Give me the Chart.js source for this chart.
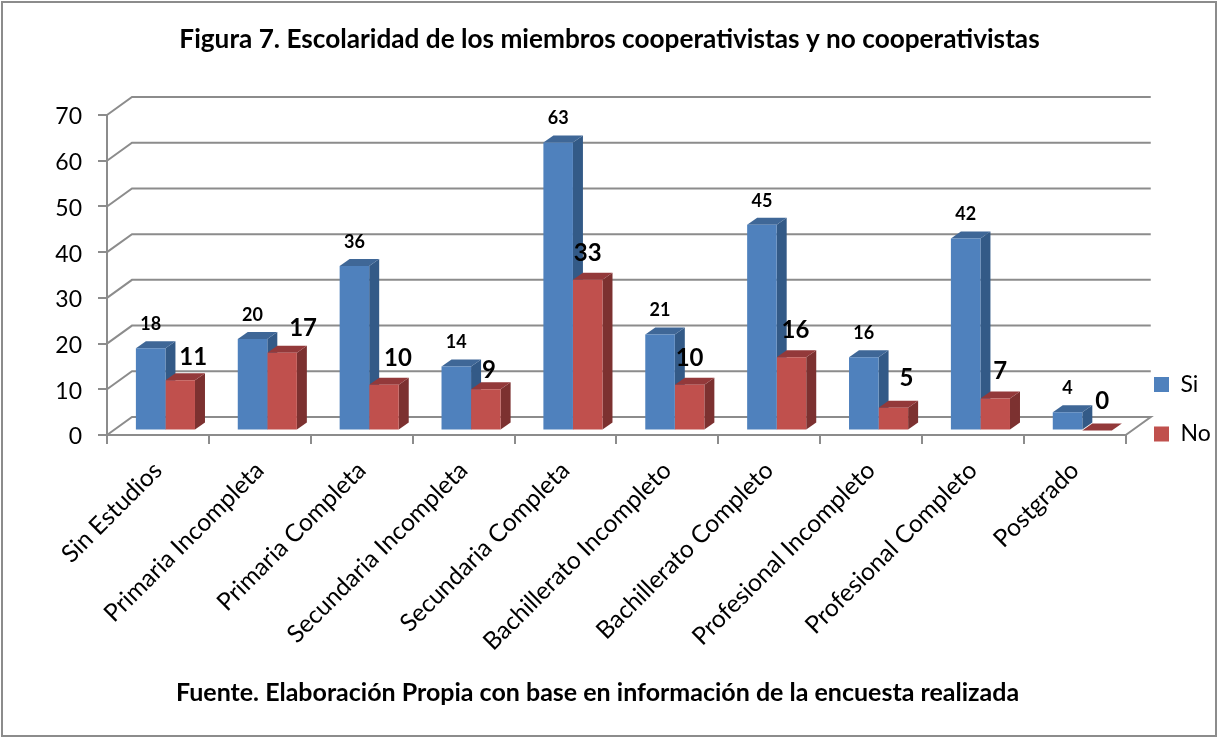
<!DOCTYPE html>
<html>
<head>
<meta charset="utf-8">
<title>Figura 7</title>
<script src="https://cdn.jsdelivr.net/npm/chart.js@4/dist/chart.umd.min.js"></script>
<style>
    html, body { margin: 0; padding: 0; background: #fff; }
    #marco { position: relative; width: 1217px; height: 738px; }
</style>
</head>
<body>
<div id="marco"><canvas id="grafico"></canvas></div>
<script>
const categorias = ['Sin Estudios', 'Primaria Incompleta', 'Primaria Completa', 'Secundaria Incompleta', 'Secundaria Completa', 'Bachillerato Incompleto', 'Bachillerato Completo', 'Profesional Incompleto', 'Profesional Completo', 'Postgrado'];
const valoresSi = [18, 20, 36, 14, 63, 21, 45, 16, 42, 4];
const valoresNo = [11, 17, 10, 9, 33, 10, 16, 5, 7, 0];
const titulo = 'Figura 7. Escolaridad de los miembros cooperativistas y no cooperativistas';
const fuente = 'Fuente. Elaboración Propia con base en información de la encuesta realizada';

// desplazamiento a mano de las etiquetas rojas, como en el original
const ajusteNoX = [13, 21, 14, 3, 0, 0, 4, 13, 5, 5];
const ajusteNoY = [-23, -25, -27, -19, -26, -27, -27, -29, -27, -29];

const fuenteTexto = 'Lato, Carlito, sans-serif';
const colorEje = '#8c8c8c';

// caras del efecto 3D
const FONDO_X = 25, FONDO_Y = -18;   // pared del fondo
const BARRA_X = 7.5, BARRA_Y = -4.5; // barras dentro del piso
const LADO_X = 10, LADO_Y = -7;      // grosor de la barra

const caras = {
    0: { lado: '#335a87', arriba: '#3f6797' },
    1: { lado: '#7c3130', arriba: '#93393a' }
};

function dibujarLados(ctx, barras, color) {
    ctx.fillStyle = color;
    barras.forEach(b => {
        const der = b.x + b.width / 2;
        ctx.beginPath();
        ctx.moveTo(der, b.base);
        ctx.lineTo(der + LADO_X, b.base + LADO_Y);
        ctx.lineTo(der + LADO_X, b.y + LADO_Y);
        ctx.lineTo(der, b.y);
        ctx.closePath();
        ctx.fill();
    });
}

function dibujarTapas(ctx, barras, color) {
    ctx.fillStyle = color;
    barras.forEach(b => {
        const izq = b.x - b.width / 2, der = b.x + b.width / 2;
        ctx.beginPath();
        ctx.moveTo(izq, b.y);
        ctx.lineTo(izq + LADO_X, b.y + LADO_Y);
        ctx.lineTo(der + LADO_X, b.y + LADO_Y);
        ctx.lineTo(der, b.y);
        ctx.closePath();
        ctx.fill();
    });
}

const pared = {
    id: 'pared',
    beforeDatasetsDraw(chart) {
        const { ctx, chartArea: a, scales: { y } } = chart;
        ctx.save();
        ctx.strokeStyle = colorEje;
        ctx.lineWidth = 2;
        y.ticks.forEach(t => {
            const py = y.getPixelForValue(t.value);
            ctx.beginPath();
            ctx.moveTo(a.left, py);
            ctx.lineTo(a.left + FONDO_X, py + FONDO_Y);
            ctx.lineTo(a.right + FONDO_X, py + FONDO_Y);
            if (t.value === 0) ctx.lineTo(a.right, py);
            ctx.stroke();
        });
        // el lado azul va antes que todo el rojo, que lo tapa
        ctx.translate(BARRA_X, BARRA_Y);
        dibujarLados(ctx, chart.getDatasetMeta(0).data, caras[0].lado);
        ctx.restore();
    },
    // las barras nativas se dibujan corridas hacia el fondo
    beforeDatasetDraw(chart, args) {
        const { ctx } = chart;
        const c = caras[args.index];
        ctx.save();
        ctx.translate(BARRA_X, BARRA_Y);
        if (args.index === 1) dibujarLados(ctx, args.meta.data, c.lado);
        dibujarTapas(ctx, args.meta.data, c.arriba);
    },
    afterDatasetDraw(chart) {
        chart.ctx.restore();
    },
    afterDatasetsDraw(chart) {
        const { ctx } = chart;
        ctx.save();
        ctx.fillStyle = '#000';
        ctx.textAlign = 'center';
        ctx.textBaseline = 'middle';
        ctx.font = 'bold 18px ' + fuenteTexto;
        chart.getDatasetMeta(0).data.forEach((b, i) => {
            ctx.fillText(valoresSi[i], b.x + BARRA_X, b.y + BARRA_Y - 24);
        });
        ctx.font = 'bold 24px ' + fuenteTexto;
        chart.getDatasetMeta(1).data.forEach((b, i) => {
            ctx.fillText(valoresNo[i], b.x + BARRA_X + ajusteNoX[i], b.y + BARRA_Y + ajusteNoY[i]);
        });
        ctx.restore();
    },
    afterLayout(chart) {
        // leyenda y pie quedan donde estaban en la figura
        const ley = chart.legend;
        ley.left = 1127.5; ley.right = 1217;
        ley.top = 346.5; ley.bottom = 490;
        chart.boxes.filter(b => b.options && b.options.text === fuente).forEach(b => {
            b.left -= 12; b.right -= 12;
        });
    },
    afterDraw(chart) {
        const { ctx, width, height } = chart;
        ctx.save();
        ctx.strokeStyle = '#8c8c8c';
        ctx.lineWidth = 2;
        ctx.strokeRect(2, 2, width - 3, height - 4);
        ctx.restore();
    }
};

new Chart(document.getElementById('grafico'), {
    type: 'bar',
    data: {
        labels: categorias,
        datasets: [
            { label: 'Si', data: valoresSi, backgroundColor: '#4f81bd', categoryPercentage: 0.58, barPercentage: 1 },
            { label: 'No', data: valoresNo, backgroundColor: '#c0504d', categoryPercentage: 0.58, barPercentage: 1 }
        ]
    },
    options: {
        responsive: true,
        maintainAspectRatio: false,
        animation: false,
        layout: { padding: { left: 0, right: -2, top: 0, bottom: 0 } },
        plugins: {
            title: {
                display: true,
                text: titulo,
                color: '#000',
                font: { family: fuenteTexto, size: 26.2, weight: 'bold' },
                padding: { top: 23.5, bottom: 60.1 }
            },
            subtitle: {
                display: true,
                position: 'bottom',
                text: fuente,
                color: '#000',
                font: { family: fuenteTexto, size: 25, weight: 'bold' },
                padding: { top: 0, bottom: 30 }
            },
            legend: {
                position: 'right',
                align: 'start',
                labels: {
                    color: '#000',
                    font: { family: fuenteTexto, size: 23 },
                    boxWidth: 15,
                    boxHeight: 15,
                    padding: 26.5
                }
            },
            tooltip: { enabled: false }
        },
        scales: {
            x: {
                grid: { drawOnChartArea: false, offset: true, color: colorEje, lineWidth: 2, tickLength: 9 },
                border: { color: colorEje, width: 2 },
                ticks: { color: '#000', font: { family: fuenteTexto, size: 24.5 }, maxRotation: 45, minRotation: 45, autoSkip: false, padding: 12 },
                afterFit(s) { s.height = 243; }
            },
            y: {
                min: 0,
                max: 70,
                grid: { drawOnChartArea: false, color: colorEje, lineWidth: 2, tickLength: 9 },
                border: { color: colorEje, width: 2 },
                ticks: { color: '#000', stepSize: 10, font: { family: fuenteTexto, size: 23 }, padding: 16, labelOffset: 2 },
                afterFit(s) { s.width = 107; }
            }
        }
    },
    plugins: [pared]
});
</script>
</body>
</html>
